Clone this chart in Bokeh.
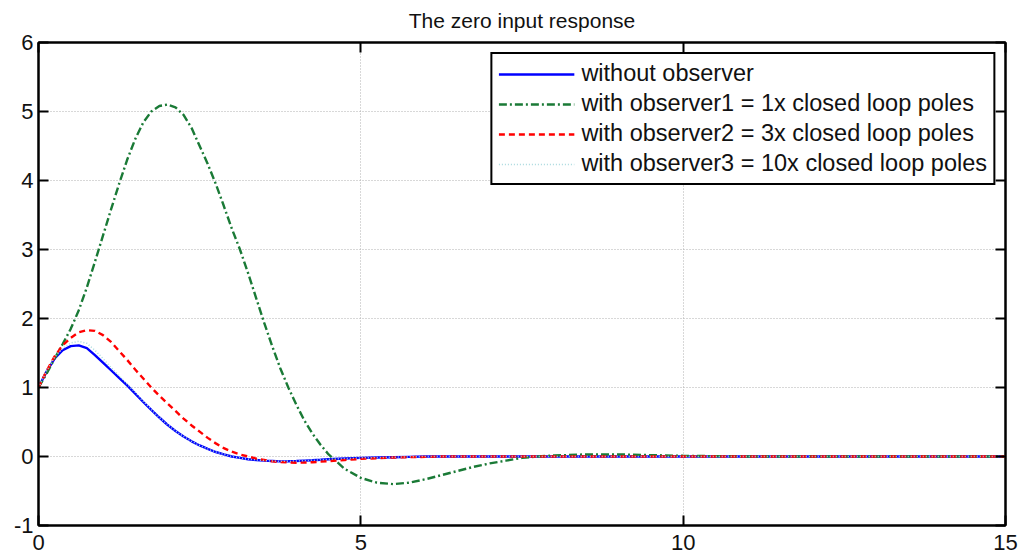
from bokeh.plotting import figure
from bokeh.models import Legend, LegendItem, LinearAxis, FixedTicker, CustomJSTickFormatter, Range1d
from bokeh.embed import file_html
from bokeh.resources import INLINE

# ---- data ----
t = [0, 0.125, 0.25, 0.375, 0.5, 0.625, 0.75, 0.875, 1.0, 1.125, 1.25, 1.375, 1.5, 1.625, 1.75,
     1.875, 2.0, 2.125, 2.25, 2.375, 2.5, 2.625, 2.75, 2.875, 3.0, 3.125, 3.25, 3.375, 3.5,
     3.625, 3.75, 3.875, 4.0, 4.125, 4.25, 4.375, 4.5,
     4.75, 5.0, 5.25, 5.5, 5.75, 6.0, 6.25, 6.5, 6.75, 7.0, 7.25, 7.5, 7.75, 8.0,
     8.5, 9.0, 9.5, 10.0, 11.0, 12.0, 13.0, 14.0, 15.0]

y_no_obs = [1.0, 1.23, 1.42, 1.54, 1.60, 1.61, 1.57, 1.47, 1.36, 1.25, 1.14, 1.03, 0.91, 0.79, 0.675,
            0.565, 0.46, 0.37, 0.29, 0.22, 0.16, 0.11, 0.065, 0.03, 0.0, -0.02, -0.04, -0.05, -0.06,
            -0.065, -0.07, -0.068, -0.065, -0.06, -0.055, -0.048, -0.04,
            -0.03, -0.02, -0.015, -0.01, -0.005, 0.0, 0.0, 0.0, 0.0, 0.0, 0.0, 0.0, 0.0, 0.0,
            0.0, 0.0, 0.0, 0.0, 0.0, 0.0, 0.0, 0.0, 0.0]

y_obs1 = [1.0, 1.2, 1.42, 1.63, 1.85, 2.12, 2.45, 2.82, 3.2, 3.58, 3.95, 4.3, 4.6, 4.84, 5.0,
          5.08, 5.1, 5.06, 4.95, 4.76, 4.5, 4.24, 3.95, 3.63, 3.3, 3.0, 2.66, 2.3, 1.94,
          1.6, 1.28, 1.0, 0.75, 0.52, 0.33, 0.17, 0.03,
          -0.18, -0.31, -0.38, -0.40, -0.38, -0.33, -0.27, -0.21, -0.15, -0.10, -0.06, -0.02, 0.0, 0.015,
          0.03, 0.03, 0.02, 0.01, 0.0, 0.0, 0.0, 0.0, 0.0]

y_obs2 = [1.0, 1.24, 1.45, 1.61, 1.72, 1.80, 1.83, 1.82, 1.76, 1.66, 1.53, 1.40, 1.26, 1.13, 1.0,
          0.88, 0.77, 0.66, 0.55, 0.45, 0.36, 0.27, 0.19, 0.12, 0.07, 0.03, 0.0, -0.03, -0.05,
          -0.07, -0.08, -0.087, -0.09, -0.088, -0.083, -0.075, -0.067,
          -0.05, -0.035, -0.025, -0.015, -0.01, -0.005, 0.0, 0.0, 0.0, 0.0, 0.0, 0.0, 0.0, 0.0,
          0.0, 0.0, 0.0, 0.0, 0.0, 0.0, 0.0, 0.0, 0.0]

y_obs3 = [1.0, 1.24, 1.44, 1.57, 1.645, 1.67, 1.64, 1.54, 1.42, 1.29, 1.17, 1.05, 0.93, 0.80, 0.68,
          0.565, 0.465, 0.37, 0.29, 0.22, 0.16, 0.11, 0.065, 0.03, 0.0, -0.02, -0.04, -0.05, -0.06,
          -0.065, -0.07, -0.068, -0.065, -0.06, -0.055, -0.048, -0.04,
          -0.03, -0.02, -0.015, -0.01, -0.005, 0.0, 0.0, 0.0, 0.0, 0.0, 0.0, 0.0, 0.0, 0.0,
          0.0, 0.0, 0.0, 0.0, 0.0, 0.0, 0.0, 0.0, 0.0]

labels = ["without observer",
          "with observer1 = 1x closed loop poles",
          "with observer2 = 3x closed loop poles",
          "with observer3 = 10x closed loop poles"]

x_ticks = [0, 5, 10, 15]
y_ticks = [-1, 0, 1, 2, 3, 4, 5, 6]

FONT = "Liberation Sans"

p = figure(width=1022, height=560, output_backend="svg", toolbar_location=None,
           x_range=Range1d(0, 15), y_range=Range1d(-1, 6),
           min_border_left=38, min_border_right=17, min_border_top=42, min_border_bottom=35,
           title="The zero input response")
p.title.align = "center"
p.title.vertical_align = "top"
p.title.text_font = FONT
p.title.text_font_size = "21px"
p.title.text_font_style = "normal"
p.title.text_color = "#111111"
p.title.standoff = 17

p.outline_line_color = "black"
p.outline_line_width = 2
p.background_fill_color = "white"
p.border_fill_color = "white"

plain = CustomJSTickFormatter(code="return tick.toString()")
for ax in (p.xaxis[0], p.yaxis[0]):
    ax.major_tick_in = 10
    ax.major_tick_out = 0
    ax.minor_tick_line_color = None
    ax.axis_line_width = 2
    ax.major_tick_line_width = 2
    ax.major_label_text_font = FONT
    ax.major_label_text_font_size = "22px"
    ax.major_label_text_color = "#111111"
    ax.formatter = plain
p.xaxis[0].ticker = FixedTicker(ticks=x_ticks)
p.yaxis[0].ticker = FixedTicker(ticks=y_ticks)
p.xaxis[0].major_label_standoff = 9
p.yaxis[0].major_label_standoff = 5

blank = CustomJSTickFormatter(code="return ''")
top_ax = LinearAxis(ticker=FixedTicker(ticks=x_ticks), formatter=blank, major_tick_in=10,
                    major_tick_out=0, minor_tick_line_color=None, axis_line_width=2,
                    major_tick_line_width=2, major_label_standoff=0)
right_ax = LinearAxis(ticker=FixedTicker(ticks=y_ticks), formatter=blank, major_tick_in=10,
                      major_tick_out=0, minor_tick_line_color=None, axis_line_width=2,
                      major_tick_line_width=2, major_label_standoff=0)
p.add_layout(top_ax, "above")
p.add_layout(right_ax, "right")

p.xgrid.ticker = FixedTicker(ticks=x_ticks)
p.ygrid.ticker = FixedTicker(ticks=y_ticks)
for g in (p.xgrid[0], p.ygrid[0]):
    g.grid_line_color = "#b0b0b0"
    g.grid_line_dash = "1 2"
    g.grid_line_width = 1

r0 = p.line(t, y_no_obs, line_color="#0000ff", line_width=2.4)
r1 = p.line(t, y_obs1, line_color="#1a7a36", line_width=2.4, line_dash="8 3 2 3")
r2 = p.line(t, y_obs2, line_color="#ff0000", line_width=2.4, line_dash="6 4")
r3 = p.line(t, y_obs3, line_color="#a9d9de", line_width=1.5, line_dash="1 2")

legend = Legend(items=[LegendItem(label=labels[0], renderers=[r0]),
                       LegendItem(label=labels[1], renderers=[r1]),
                       LegendItem(label=labels[2], renderers=[r2]),
                       LegendItem(label=labels[3], renderers=[r3])],
                location="top_right")
legend.margin = 10
legend.padding = 6
legend.spacing = 3
legend.glyph_width = 76
legend.glyph_height = 20
legend.label_height = 20
legend.label_standoff = 7
legend.label_text_font = FONT
legend.label_text_font_size = "23.5px"
legend.label_text_color = "#111111"
legend.border_line_color = "black"
legend.border_line_alpha = 1.0
legend.border_line_width = 2
legend.background_fill_alpha = 1.0
p.add_layout(legend, "center")

open("out.html", "w").write(file_html(p, INLINE))
